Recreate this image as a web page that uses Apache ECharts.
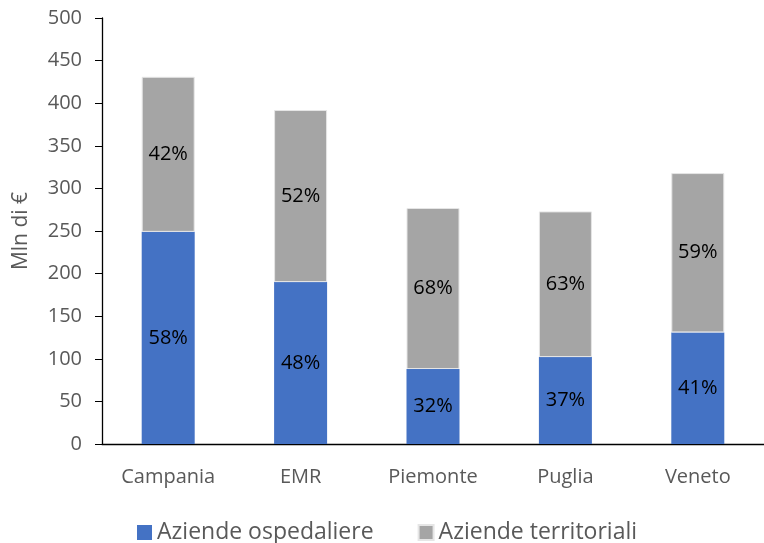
<!DOCTYPE html>
<html>
<head>
<meta charset="utf-8">
<script src="https://cdn.jsdelivr.net/npm/echarts@6/dist/echarts.min.js"></script>
<style>
  html, body { margin: 0; padding: 0; background: #fff; }
  #chart { width: 764px; height: 543px; }
</style>
</head>
<body>
<div id="chart"></div>
<script>
// regioni e valori (Mln di €)
const regioni = ['Campania', 'EMR', 'Piemonte', 'Puglia', 'Veneto'];
const ospedaliere = [249, 190, 88, 102, 131];
const territoriali = [182, 202, 189, 171, 187];

const totali = regioni.map((r, i) => ospedaliere[i] + territoriali[i]);
const pct = (arr) => (p) => Math.round(arr[p.dataIndex] / totali[p.dataIndex] * 100) + '%';

const font = 'Open Sans, Noto Sans, sans-serif';
const chart = echarts.init(document.getElementById('chart'));

chart.setOption({
    animation: false,
    grid: { left: 102, top: 18, width: 667, height: 426 },
    legend: {
        top: 516,
        left: 132,
        itemWidth: 15,
        itemHeight: 15,
        itemGap: 44,
        icon: 'rect',
        textStyle: { fontSize: 23, color: '#595959', fontFamily: font },
        data: ['Aziende ospedaliere', 'Aziende territoriali']
    },
    xAxis: {
        type: 'category',
        data: regioni,
        axisLine: { lineStyle: { color: '#000', width: 1.3 } },
        axisTick: { show: false },
        axisLabel: { color: '#595959', fontSize: 20, margin: 23, fontFamily: font }
    },
    yAxis: {
        type: 'value',
        min: 0,
        max: 500,
        interval: 50,
        name: 'Mln di €',
        nameLocation: 'middle',
        nameGap: 70,
        nameTextStyle: { color: '#595959', fontSize: 21, fontFamily: font },
        splitLine: { show: false },
        axisLine: { show: true, lineStyle: { color: '#000', width: 1.3 } },
        axisTick: { show: true, length: 7, lineStyle: { color: '#000' } },
        axisLabel: { color: '#595959', fontSize: 20, margin: 20, fontFamily: font }
    },
    series: [
        {
            name: 'Aziende ospedaliere',
            type: 'bar',
            stack: 'tot',
            barWidth: 53,
            data: ospedaliere,
            itemStyle: { color: '#4472C4' },
            label: { show: true, position: 'inside', color: '#000', fontSize: 20, fontFamily: font, formatter: pct(ospedaliere) }
        },
        {
            name: 'Aziende territoriali',
            type: 'bar',
            stack: 'tot',
            barWidth: 53,
            data: territoriali,
            itemStyle: { color: '#A5A5A5', borderColor: '#e6e6e6', borderWidth: 1 },
            label: { show: true, position: 'inside', color: '#000', fontSize: 20, fontFamily: font, formatter: pct(territoriali) }
        }
    ]
});
</script>
</body>
</html>
